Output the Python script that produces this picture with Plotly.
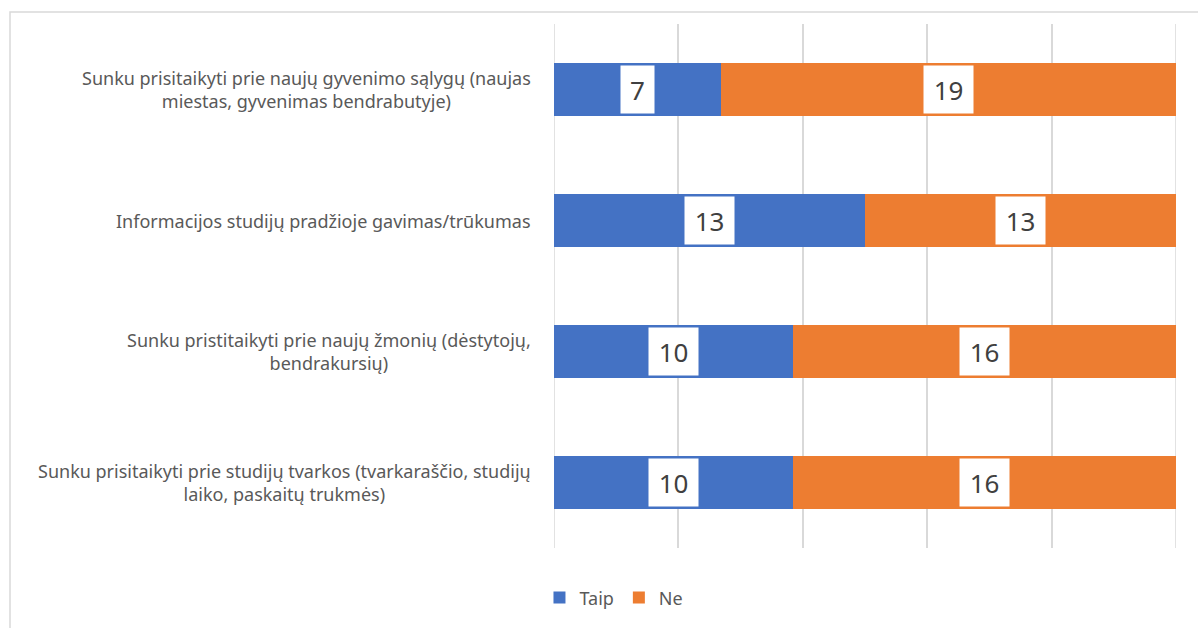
import plotly.graph_objects as go

categories = [
    "Sunku prisitaikyti prie naujų gyvenimo sąlygų (naujas<br>miestas, gyvenimas bendrabutyje)",
    "Informacijos studijų pradžioje gavimas/trūkumas",
    "Sunku pristitaikyti prie naujų žmonių (dėstytojų,<br>bendrakursių)",
    "Sunku prisitaikyti prie studijų tvarkos (tvarkaraščio, studijų<br>laiko, paskaitų trukmės)",
]
taip = [7, 13, 10, 10]
ne = [19, 13, 16, 16]
series_names = ["Taip", "Ne"]

BLUE = "#4472C4"
ORANGE = "#ED7D31"
TEXT = "#595959"
GRID = "#D9D9D9"
FONT = "Noto Sans"

fig = go.Figure()
fig.add_trace(go.Bar(y=categories, x=taip, name=series_names[0], orientation="h",
                     marker=dict(color=BLUE, line=dict(width=0)), hoverinfo="x+y"))
fig.add_trace(go.Bar(y=categories, x=ne, name=series_names[1], orientation="h",
                     marker=dict(color=ORANGE, line=dict(width=0)), hoverinfo="x+y"))

annotations = []
for cat, t, n in zip(categories, taip, ne):
    total = t + n
    annotations.append(dict(x=0, xref="paper", y=cat, yref="y", text=cat,
                            xanchor="right", yanchor="middle", align="center",
                            xshift=-21, showarrow=False,
                            font=dict(family=FONT, size=18, color=TEXT)))
    for val, mid in ((t, t / 2), (n, t + n / 2)):
        s = str(val)
        annotations.append(dict(x=mid / total * 100, xref="x", y=cat, yref="y",
                                text=s, showarrow=False,
                                bgcolor="white", borderpad=2,
                                width=16 * len(s) + 13, height=43,
                                font=dict(family=FONT, size=26, color="#404040")))

shapes = [dict(type="rect", xref="paper", yref="paper", x0=-0.8746, x1=1.2,
               y0=-0.3, y1=1.0229, line=dict(color=GRID, width=1.5),
               fillcolor="rgba(0,0,0,0)", layer="below")]
# gridlines at the axis ends (0% and 100%)
for xv in (0, 100):
    shapes.append(dict(type="line", xref="x", yref="paper", x0=xv, x1=xv, y0=0, y1=1,
                       line=dict(color=GRID, width=1.5), layer="below"))

fig.update_layout(
    barmode="stack",
    barnorm="percent",
    bargap=0.6,
    width=1198, height=628,
    margin=dict(l=554, r=22, t=24, b=80),
    paper_bgcolor="white", plot_bgcolor="white",
    font=dict(family=FONT, color=TEXT),
    xaxis=dict(range=[0, 100], dtick=20, showticklabels=False, showgrid=True,
               gridcolor=GRID, gridwidth=1.5, zeroline=False, showline=False,
               fixedrange=True),
    yaxis=dict(autorange="reversed", showticklabels=False, showgrid=False,
               zeroline=False, showline=False),
    legend=dict(orientation="h", xref="container", yref="container",
                x=0.5125, y=0.048, xanchor="center", yanchor="middle",
                font=dict(family=FONT, size=18, color=TEXT), traceorder="normal"),
    annotations=annotations,
    shapes=shapes,
)

fig.write_html("out.html", config={"displayModeBar": False},
               post_script="document.body.style.margin='0';")
